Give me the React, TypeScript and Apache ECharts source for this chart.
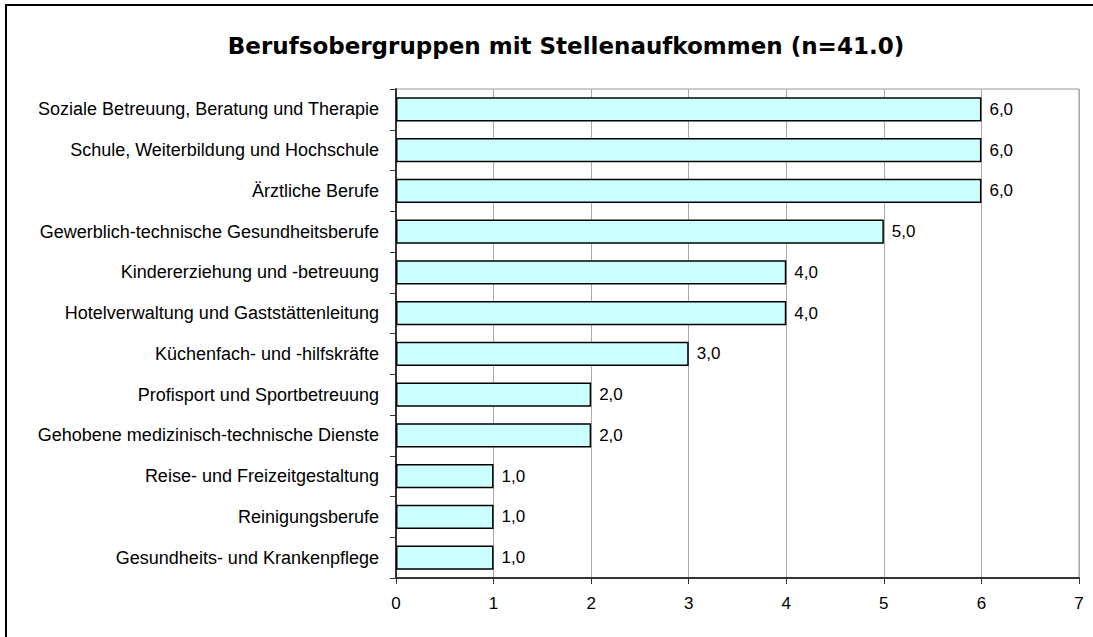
import React, { useEffect, useRef } from "react";
import * as echarts from "echarts";

const categories = [
  "Gesundheits- und Krankenpflege",
  "Reinigungsberufe",
  "Reise- und Freizeitgestaltung",
  "Gehobene medizinisch-technische Dienste",
  "Profisport und Sportbetreuung",
  "Küchenfach- und -hilfskräfte",
  "Hotelverwaltung und Gaststättenleitung",
  "Kindererziehung und -betreuung",
  "Gewerblich-technische Gesundheitsberufe",
  "Ärztliche Berufe",
  "Schule, Weiterbildung und Hochschule",
  "Soziale Betreuung, Beratung und Therapie",
];
const values = [1, 1, 1, 2, 2, 3, 4, 4, 5, 6, 6, 6];
const titleText = "Berufsobergruppen mit Stellenaufkommen (n=41.0)";

export default function App() {
  const ref = useRef<HTMLDivElement>(null);
  useEffect(() => {
    if (!ref.current) return;
    const chart = echarts.init(ref.current, undefined, { renderer: "svg" });
    chart.setOption({
      animation: false,
      backgroundColor: "#ffffff",
      title: {
        text: titleText,
        left: 561,
        textAlign: "center",
        top: 29,
        textStyle: {
          fontFamily: "DejaVu Sans",
          fontWeight: "bold",
          fontSize: 23,
          color: "#000",
        },
      },
      graphic: [
        {
          type: "rect",
          shape: { x: 6, y: 5, width: 1200, height: 700 },
          style: { fill: "none", stroke: "#000", lineWidth: 2 },
          silent: true,
        },
      ],
      grid: { left: 396, right: 14, top: 89, bottom: 59, containLabel: false, show: true, borderColor: "#999", borderWidth: 1 },
      xAxis: {
        type: "value",
        min: 0,
        max: 7,
        interval: 1,
        axisLine: { show: true, lineStyle: { color: "#333", width: 2 } },
        axisTick: { show: true, length: 6, lineStyle: { color: "#333" } },
        axisLabel: { fontFamily: "Liberation Sans", fontSize: 17, color: "#000", margin: 17 },
        splitLine: { show: true, lineStyle: { color: "#aaa", width: 1 } },
      },
      yAxis: {
        type: "category",
        data: categories,
        axisLine: { show: true, lineStyle: { color: "#333", width: 2 } },
        axisTick: { show: true, length: 6, lineStyle: { color: "#333" } },
        axisLabel: { fontFamily: "Liberation Sans", fontSize: 18, color: "#000", margin: 17 },
        splitLine: { show: false },
      },
      series: [
        {
          type: "bar",
          data: values,
          barCategoryGap: "41%",
          itemStyle: { color: "#ccffff", borderColor: "#000", borderWidth: 1.5 },
          label: {
            show: true,
            position: "right",
            distance: 8,
            fontFamily: "Liberation Sans",
            fontSize: 17,
            color: "#000",
            formatter: (p: any) => p.value.toFixed(1).replace(".", ","),
          },
        },
      ],
    });
    return () => chart.dispose();
  }, []);
  return <div ref={ref} style={{ position: "fixed", left: 0, top: 0, width: 1093, height: 637 }} />;
}
